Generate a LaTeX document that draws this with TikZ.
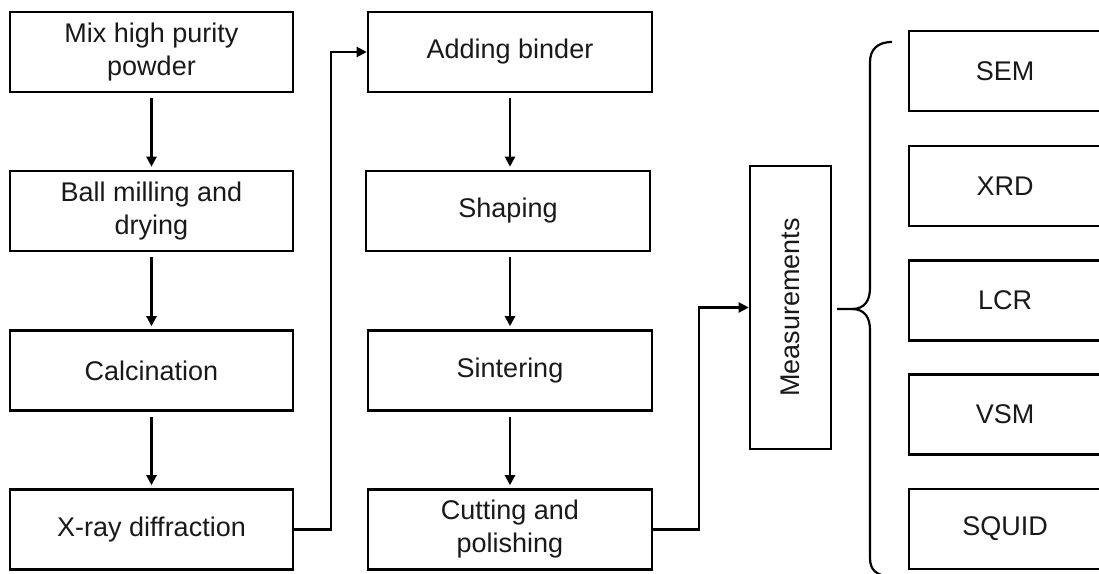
\documentclass[tikz,border=0pt]{standalone}
\usepackage{fontspec}
\setmainfont{Liberation Sans}
\usetikzlibrary{arrows.meta}
\begin{document}
\begin{tikzpicture}[x=1pt,y=-1pt,
  every node/.style={font=\fontsize{27}{33}\selectfont, align=center, inner sep=0pt, text=black!90},
  stepbox/.style={draw=black, line width=2.6pt, minimum width=283pt, minimum height=80pt},
  midbox/.style={draw=black, line width=2.6pt, minimum width=284pt, minimum height=80pt},
  measbox/.style={draw=black, line width=2.6pt, minimum width=192pt, minimum height=80pt},
  flow/.style={line width=2.2pt, -{Triangle[length=10pt,width=10pt]}},
  vflow/.style={flow, shorten <=5pt, shorten >=3pt},
  bracket/.style={line width=2.2pt}]
\useasboundingbox (0,0) rectangle (1099,573);

% left column
\node[stepbox] (mix) at (151.5,52) {Mix high purity\\powder};
\node[stepbox] (ball) at (151.5,211) {Ball milling and\\drying};
\node[stepbox] (calc) at (151.5,370.5) {Calcination};
\node[stepbox] (xrd1) at (151.5,529.5) {X-ray diffraction};

% middle column
\node[midbox] (bind) at (510,52) {Adding binder};
\node[midbox] (shape) at (508,211) {Shaping};
\node[midbox] (sint) at (510,370.5) {Sintering};
\node[midbox] (cut) at (510,529.5) {Cutting and\\polishing};

% measurements
\node[draw=black, line width=2.6pt, minimum width=283pt, minimum height=81pt, rotate=90] (meas) at (790.5,307.5) {Measurements};

% right column
\node[measbox] (sem) at (1005,71) {SEM};
\node[measbox] (xrd) at (1005,186) {XRD};
\node[measbox] (lcr) at (1005,300.5) {LCR};
\node[measbox] (vsm) at (1005,414.5) {VSM};
\node[measbox] (squid) at (1005,529) {SQUID};

% arrows
\draw[vflow] (mix) -- (ball);
\draw[vflow] (ball) -- (calc);
\draw[vflow] (calc) -- (xrd1);
\draw[vflow] (bind |- bind.south) -- (bind |- shape.north);
\draw[vflow] (bind |- shape.south) -- (bind |- sint.north);
\draw[vflow] (sint) -- (cut);

\coordinate (j1) at (331,529.5);
\draw[flow] (xrd1.east) -- (j1) |- (bind.west);
\coordinate (j2) at (699,529.5);
\draw[flow] (cut.east) -- (j2) |- (meas.north);

% brace
\coordinate (bt) at (837,309);
\draw[bracket] (bt) -- (852,309) .. controls (865,309) and (870,300) .. (870,288)
  -- (870,62) .. controls (870,50) and (877,42) .. (892,42);
\draw[bracket] (852,309) .. controls (865,309) and (870,318) .. (870,330)
  -- (870,558) .. controls (870,570) and (876,575) .. (890,577);
\end{tikzpicture}
\end{document}
